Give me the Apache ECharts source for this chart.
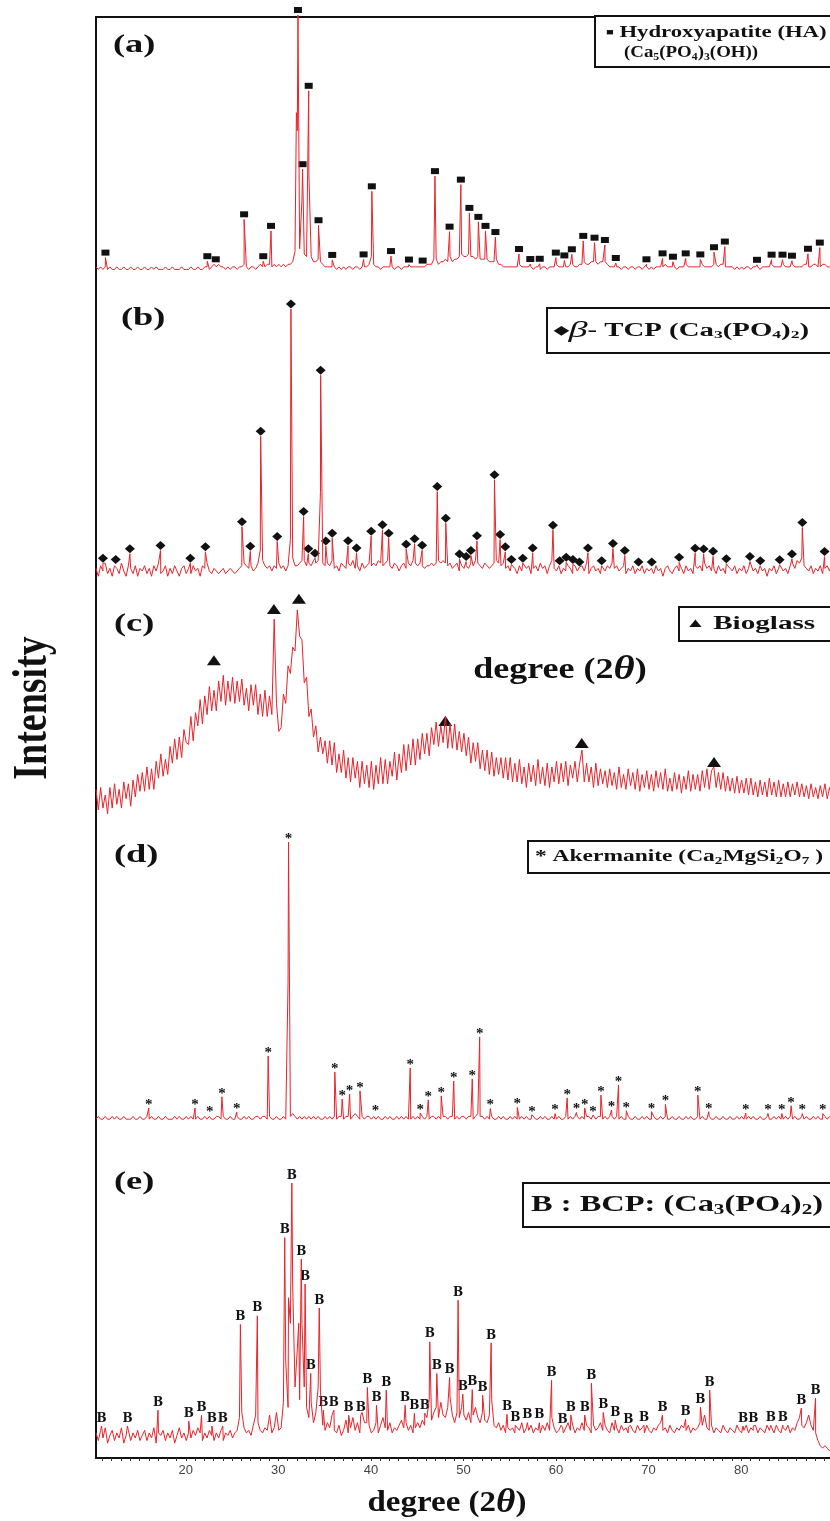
<!DOCTYPE html>
<html>
<head>
<meta charset="utf-8">
<title>XRD patterns (a)-(e)</title>
<script src="https://cdn.jsdelivr.net/npm/echarts@6/dist/echarts.min.js"></script>
<style>
  html, body { margin: 0; padding: 0; background: #fff; }
  #chart { width: 830px; height: 1521px; }
</style>
</head>
<body>
<div id="chart"></div>
<script>
// every pattern is sampled on the same 2theta scan
const scanStart = 10.3;
const scanStep = 0.25;
const xMin = 10.3;
const xMax = 89.6;
const tickLabels = [20, 30, 40, 50, 60, 70, 80];
const minorTicks = Array.from({ length: 79 }, (_, i) => 11 + i);

// (a) hydroxyapatite: background scan, marked peaks, unmarked shoulder
const haBase = [
  2,1,2,1,2,1,2,1,1,2,1,1,2,1,1,2,1,1,2,1,
  1,2,1,1,2,1,2,1,1,1,2,1,1,2,1,1,1,2,1,1,
  1,2,1,1,2,1,1,2,2,1,2,3,2,3,2,2,1,2,1,2,
  2,1,2,2,3,2,1,2,2,1,2,3,2,2,3,3,2,3,2,3,
  2,3,2,3,3,4,8,55,9,28,7,6,38,6,4,4,5,4,3,2,
  2,2,2,2,1,2,1,2,1,2,2,1,2,2,1,2,2,2,3,6,
  3,2,2,1,2,2,2,2,2,1,2,2,1,2,2,2,2,2,2,2,
  2,2,2,3,3,3,5,5,3,4,4,5,4,6,4,5,5,6,7,6,
  6,7,6,6,5,6,5,5,5,5,4,4,4,5,3,3,2,2,2,2,
  2,2,2,3,2,2,2,2,2,1,2,2,1,2,2,1,2,2,2,3,
  2,2,2,2,2,3,3,2,2,3,3,4,3,3,4,4,4,3,4,4,
  4,3,2,2,2,2,2,1,2,2,1,2,2,1,2,2,1,2,2,1,
  2,1,2,2,2,2,3,2,2,2,2,1,2,2,2,3,2,2,2,2,
  2,2,3,2,2,2,2,3,3,2,3,3,2,2,2,2,1,2,1,2,
  1,2,2,1,2,2,2,1,2,2,2,2,3,2,2,2,2,3,2,2,
  2,3,2,2,2,2,3,3,2,2,3,3,2,2,3,3,2,2,2,2
];
const haPeaks = [
  [11.32,5.6],[22.33,4.2],[23.24,3],[26.3,20.5],[28.37,4.2],[29.21,16],[32.12,100],
  [32.62,40],[33.28,70.5],[34.34,18.2],[35.82,4.7],[39.21,4.9],[40.1,31.4],[42.17,6.2],
  [44.11,2.9],[45.59,2.5],[46.92,37.3],[48.5,15.7],[49.72,34],[50.64,23],[51.61,19.5],
  [52.38,16],[53.45,13.6],[56.0,7],[57.22,3.1],[58.24,3.2],[59.98,5.6],[60.9,4.5],
  [61.71,6.9],[62.94,12.1],[64.16,11.4],[65.28,10.5],[66.46,3.5],[69.77,3],[71.51,5.3],
  [72.63,4],[74.01,5.3],[75.59,4.9],[77.07,7.7],[78.24,9.9],[81.71,2.8],[83.29,4.8],
  [84.47,4.8],[85.49,4.4],[87.22,7.1],[88.5,9.5]
];
const haExtra = [[31.95, 62]];

// (b) beta-TCP
const tcpBase = [
  1,-2,2,0,3,-1,1,-2,2,1,-1,3,0,-2,2,1,-1,2,-2,1,
  0,2,-1,1,-2,2,0,3,-1,0,2,-2,1,-1,2,0,-2,1,2,-1,
  1,-1,2,0,1,-2,2,1,3,0,-1,1,0,-1,0,1,-1,0,1,0,
  -1,0,1,2,3,2,1,2,0,1,3,8,4,2,1,2,0,2,1,3,
  1,2,0,2,12,5,2,2,3,4,4,2,3,2,4,3,4,30,3,2,
  3,2,4,1,2,0,3,2,1,3,2,4,1,2,0,3,1,2,3,2,
  3,2,4,3,2,3,4,2,1,3,2,0,2,3,1,3,2,4,3,2,
  3,2,1,2,2,3,2,3,4,3,4,3,2,3,1,2,3,0,2,1,
  2,1,3,2,4,3,2,1,3,2,1,2,3,4,3,2,3,1,2,0,
  2,1,-1,2,0,3,1,2,-1,1,2,0,3,1,2,-1,2,4,1,0,
  2,-1,1,0,2,1,-1,2,0,1,2,0,3,-1,1,2,0,1,-1,2,
  0,2,1,3,1,2,0,1,2,-1,1,0,2,-1,1,0,2,-1,1,0,
  1,-1,2,0,1,-2,1,2,0,-1,1,2,0,1,-1,2,0,1,-1,2,
  1,2,0,3,1,2,0,1,-1,2,0,1,-1,2,1,0,2,-1,1,0,
  2,-1,1,3,0,1,-1,2,0,1,-2,1,0,2,-1,1,2,0,1,-1,
  2,3,1,4,3,5,2,1,0,2,-1,1,0,2,-1,1,2,0,3,1
];
const tcpPeaks = [
  [11.05,3],[12.43,2.5],[13.96,6.6],[17.27,7.8],[20.49,3],[22.12,7.3],[26.07,16.9],
  [26.97,7.5],[28.09,51.4],[29.88,11.3],[31.36,100],[32.73,20.8],[33.24,6.6],[33.96,4.9],
  [34.57,74.7],[35.13,9.5],[35.82,12.5],[37.53,9.6],[38.45,6.9],[40.03,13.3],[41.25,15.7],
  [41.92,12.5],[43.81,8.3],[44.72,10.4],[45.54,7.9],[47.17,30.3],[48.09,18.2],[49.57,4.6],
  [50.29,3.6],[50.8,5.9],[51.46,11.5],[53.35,34.8],[53.96,12],[54.52,7.3],[55.18,2.5],
  [56.41,3],[57.48,6.9],[59.67,15.6],[60.39,2],[61.1,3.3],[61.82,2.5],[62.53,1.5],
  [63.45,6.9],[64.93,2],[66.15,8.6],[67.43,5.9],[68.91,1.5],[70.34,1.5],[73.3,3.3],
  [75.03,6.8],[75.95,6.5],[76.97,5.6],[78.4,2.8],[80.95,3.6],[82.07,2],[84.16,2.4],
  [85.49,4.6],[86.61,16.6],[89.01,5.5]
];

// (c) bioglass: broad amorphous humps, marks above the humps
const bgBase = [
  3,-8,4,-7,0,-10,4,-7,6,-5,3,-7,7,-2,6,-6,8,-1,11,2,
  12,2,15,3,14,3,18,9,22,10,19,11,26,17,30,19,31,20,35,28,
  27,42,29,44,37,51,38,53,43,58,45,56,45,61,50,64,48,61,50,63,
  49,61,50,62,48,57,45,59,48,59,43,54,42,56,42,53,43,94,49,34,
  36,54,49,69,65,79,77,99,85,83,60,63,42,46,31,37,23,31,22,29,
  17,29,16,28,12,22,12,24,9,20,7,20,9,18,4,18,6,16,4,18,
  3,16,6,20,6,19,6,18,10,23,8,22,12,27,13,27,16,30,16,30,
  19,33,22,33,21,36,27,39,26,37,28,42,25,38,25,38,24,34,23,33,
  21,31,17,28,18,28,14,24,13,24,11,23,10,20,11,20,9,20,8,20,
  7,17,7,19,6,15,4,17,7,16,5,19,6,15,5,17,4,15,7,18,
  6,17,7,18,5,16,9,18,7,17,24,7,17,7,15,4,17,5,14,6,
  13,4,14,5,12,3,15,4,11,3,14,5,12,3,14,2,11,4,13,3,
  11,2,13,4,12,3,14,2,9,2,12,3,11,1,10,3,13,2,11,3,
  11,2,13,4,14,3,13,15,4,12,3,12,2,10,2,9,1,10,1,8,
  1,9,0,9,0,7,-1,8,0,7,-1,9,0,7,-1,8,-1,6,-1,7,
  -1,6,0,7,-1,6,-1,5,-2,6,-1,4,-2,5,-1,6,-2,4,-1,5
];
const bgMarks = [[23.04,72],[29.52,99.5],[32.22,105],[48.04,39.6],[62.78,27.8],[77.07,17.6]];

// (d) akermanite
const akBase = [
  1,2,1,1,2,1,1,2,1,2,1,1,2,1,1,1,2,1,1,2,
  1,1,2,1,2,1,1,2,1,1,2,1,1,1,2,1,2,1,1,2,
  1,2,1,1,2,1,1,2,1,2,1,1,2,2,1,2,1,1,2,1,
  1,2,1,1,2,1,2,1,1,2,2,1,2,2,1,2,1,1,2,1,
  1,2,1,50,2,3,2,1,2,1,2,1,2,1,2,1,2,1,1,2,
  1,2,1,2,1,2,2,1,2,2,1,2,3,2,1,2,1,2,2,1,
  2,1,2,1,1,2,1,2,1,1,2,1,2,1,2,1,1,2,1,2,
  1,2,1,2,1,2,2,1,2,1,2,2,1,2,2,1,2,1,2,2,
  1,2,2,1,2,3,2,2,1,2,1,2,1,1,2,1,2,1,1,2,
  1,2,1,1,2,1,2,1,1,2,1,1,2,1,2,1,1,2,1,1,
  2,1,1,2,1,2,1,2,2,1,2,1,2,2,1,2,1,2,2,1,
  2,1,2,2,1,2,1,2,1,1,2,1,1,2,1,1,2,1,2,1,
  1,2,1,1,2,1,2,1,1,2,1,1,2,1,1,2,1,2,1,1,
  2,1,2,1,1,2,1,1,2,1,1,2,1,1,2,1,1,2,1,2,
  1,1,2,1,2,1,1,2,1,1,2,1,1,2,1,2,1,1,2,1,
  2,1,2,1,1,2,1,2,1,1,2,1,2,1,1,2,1,2,1,1
];
const akPeaks = [
  [16.0,5],[21.0,5],[22.6,2.5],[23.9,9],[25.5,3.6],[28.9,23.6],[31.1,100],[36.1,17.9],
  [36.9,8.2],[37.7,10],[38.82,11.1],[40.5,2.7],[44.25,19.3],[45.32,3.2],[46.2,7.9],
  [47.6,9.3],[48.95,14.6],[50.95,15.4],[51.75,30.4],[52.9,4.8],[55.82,5.2],[57.4,2.6],
  [59.9,3],[61.2,8.6],[62.2,3.4],[63.1,5],[64.0,2.5],[64.85,9.6],[66.0,4.3],[66.75,13.2],
  [67.6,4],[70.32,3.7],[71.82,6.3],[75.32,9.6],[76.5,3.7],[80.5,3.2],[82.9,3],[84.4,3],
  [85.4,5.8],[86.6,3],[88.82,3]
];

// (e) BCP
const bcpBase = [
  2,-1,3,0,4,-2,1,3,-1,2,0,4,-2,1,3,-1,2,0,3,-1,
  1,3,-1,2,0,4,-2,2,1,3,-1,2,0,3,-2,1,4,0,2,-1,
  2,0,3,1,4,2,-1,2,0,3,1,-1,2,0,3,-1,2,1,3,0,
  2,3,8,10,4,2,3,1,5,9,6,3,2,4,3,9,2,4,10,3,
  4,14,30,12,45,60,20,35,15,45,20,12,8,14,6,10,20,18,5,3,
  6,4,9,3,2,5,1,3,7,2,4,8,3,6,2,10,6,6,5,2,
  3,6,2,5,8,4,3,6,2,4,3,5,7,4,6,3,5,2,4,6,
  4,7,5,8,15,7,10,12,8,14,9,8,12,16,9,6,10,8,12,9,
  7,10,6,9,12,8,6,10,7,6,9,15,5,4,6,3,5,2,4,3,
  4,2,5,3,6,2,4,3,5,2,4,3,2,5,3,6,3,8,4,2,
  3,5,2,4,6,3,5,2,4,3,6,3,5,4,2,5,3,4,6,3,
  5,3,2,6,3,4,2,5,3,4,2,5,3,2,5,3,4,2,5,3,
  2,4,3,5,6,3,4,2,5,3,2,4,3,5,4,3,5,2,4,3,
  4,6,5,9,4,3,5,2,4,3,2,5,3,2,4,3,2,5,3,2,
  3,5,2,4,3,5,2,4,3,2,5,3,4,2,5,3,2,4,3,5,
  2,4,3,6,8,5,4,6,9,5,3,2,-1,-3,-4,-3,-4,-5,-4,-5
];
const bcpPeaks = [
  [10.9,4.7],[13.7,4.7],[17.0,10.9],[20.32,6.6],[21.7,8.9],[22.82,4.7],[24.0,4.7],
  [25.9,44.5],[27.73,47.9],[30.69,78.6],[31.46,100],[32.48,70.2],[32.89,60.4],[33.5,25.3],
  [34.42,51],[34.86,10.9],[36.0,10.9],[37.6,8.9],[38.9,8.9],[39.62,19.8],[40.6,12.8],
  [41.66,18.8],[43.7,12.8],[44.7,9.7],[45.82,9.7],[46.36,37.7],[47.12,25.3],[48.5,23.7],
  [49.42,54],[49.93,17.2],[50.95,19],[52.07,16.8],[52.99,37.3],[54.7,9.3],[55.6,5],
  [56.9,6],[58.2,6],[59.52,22.6],[60.7,4.2],[61.6,9],[63.1,9],[63.82,21.5],[65.1,10],
  [66.4,7],[67.82,4.3],[69.5,5],[71.5,9],[74.0,7.4],[75.6,12.1],[76.6,18.8],[80.2,4.7],
  [81.32,4.7],[83.2,5],[84.5,5],[86.5,11.7],[88.04,15.6]
];
const bcpExtra = [[31.1, 55], [32.2, 45]];

// pixel rows of each pattern: peak-top (value 100) and baseline (value 0)
const panels = [
  { top: 15, base: 272 },
  { top: 309, base: 571 },
  { top: 608, base: 795 },
  { top: 842, base: 1122 },
  { top: 1183, base: 1438 }
];
const frame = { left: 96, right: 0, top: 17, bottom: 63 };

const RED = '#e8232a';
const INK = '#111';
const SERIF = '"Liberation Serif", "Times New Roman", serif';

function trace(base, ...peakLists) {
  const pts = base.map((v, i) => [+(scanStart + i * scanStep).toFixed(2), v]);
  return pts.concat(...peakLists).sort((p, q) => p[0] - q[0]);
}

const grids = panels.map(p => ({
  left: frame.left, right: frame.right, top: p.top, height: p.base - p.top
}));
grids.push(frame);

const xAxes = panels.map((p, i) => ({
  type: 'value', gridIndex: i, min: xMin, max: xMax, show: false
}));
xAxes.push({
  type: 'value', gridIndex: 5, min: xMin, max: xMax,
  axisLine: { onZero: false, lineStyle: { color: INK, width: 2 } },
  axisTick: { customValues: minorTicks, length: 3, lineStyle: { color: '#333', width: 1 } },
  axisLabel: { customValues: tickLabels, fontSize: 13, color: '#444', fontFamily: 'Liberation Sans', margin: 6 },
  splitLine: { show: false }
});
xAxes.push({
  type: 'value', gridIndex: 5, position: 'top', min: xMin, max: xMax,
  axisLine: { onZero: false, lineStyle: { color: INK, width: 2 } },
  axisTick: { show: false }, axisLabel: { show: false }, splitLine: { show: false }
});

const yAxes = panels.map((p, i) => ({
  type: 'value', gridIndex: i, min: 0, max: 100, show: false
}));
yAxes.push({
  type: 'value', gridIndex: 5, min: 0, max: 1,
  axisLine: { show: true, onZero: false, lineStyle: { color: INK, width: 2 } },
  axisTick: { show: false }, axisLabel: { show: false }, splitLine: { show: false }
});

function lineSeries(i, data) {
  return {
    type: 'line', xAxisIndex: i, yAxisIndex: i, data: data,
    showSymbol: false, symbol: 'none', clip: false, silent: true,
    lineStyle: { color: RED, width: 1 }
  };
}
function markSeries(i, data, extra) {
  return Object.assign({
    type: 'scatter', xAxisIndex: i, yAxisIndex: i, data: data,
    clip: false, silent: true, itemStyle: { color: INK, opacity: 1 }
  }, extra);
}
function textMarks(ch, font, size, dist) {
  return {
    symbolSize: 1,
    itemStyle: { color: 'rgba(0,0,0,0)', opacity: 1 },
    label: {
      show: true, position: 'top', distance: dist, formatter: ch, opacity: 1,
      fontFamily: font, fontWeight: 'bold', fontSize: size, color: INK
    }
  };
}

const series = [
  lineSeries(0, trace(haBase, haPeaks, haExtra)),
  markSeries(0, haPeaks, { symbol: 'rect', symbolSize: [8, 6], symbolOffset: [0, -5] }),
  lineSeries(1, trace(tcpBase, tcpPeaks)),
  markSeries(1, tcpPeaks, { symbol: 'diamond', symbolSize: [10, 9], symbolOffset: [0, -5] }),
  lineSeries(2, trace(bgBase)),
  markSeries(2, bgMarks, { symbol: 'triangle', symbolSize: [14, 10] }),
  lineSeries(3, trace(akBase, akPeaks)),
  markSeries(3, akPeaks, textMarks('*', SERIF, 15, -5)),
  lineSeries(4, trace(bcpBase, bcpPeaks, bcpExtra)),
  markSeries(4, bcpPeaks, textMarks('B', '"DejaVu Serif", serif', 12, 1))
];

// text helpers for the annotation layer
function font(size, extra) {
  return Object.assign({ fontSize: size, fontFamily: SERIF, fontWeight: 'bold' }, extra);
}
function sub(size) {
  return font(size, { padding: [Math.round(size * 0.75), 0, 0, 0] });
}
function txt(x, y, text, size, sx, more) {
  return {
    type: 'text', x: x, y: y, z: 100, scaleX: sx,
    style: Object.assign(font(size, {
      text: text, fill: INK, align: 'left', verticalAlign: 'middle'
    }), more || {})
  };
}
function box(x, y, w, h) {
  return {
    type: 'rect', z: 99, shape: { x: x, y: y, width: w, height: h },
    style: { fill: '#fff', stroke: INK, lineWidth: 2 }
  };
}

const graphic = [
  txt(113, 45, '(a)', 26, 1.4),
  txt(121, 318, '(b)', 26, 1.4),
  txt(114, 624, '(c)', 26, 1.4),
  txt(114, 855, '(d)', 26, 1.4),
  txt(114, 1182, '(e)', 26, 1.4),

  box(595, 16, 236, 51),
  txt(606, 33, '{m|■} Hydroxyapatite (HA)', 16, 1.42, { rich: { m: font(9) } }),
  txt(624, 53, '(Ca{s|5}(PO{s|4}){s|3}(OH))', 16, 1.18, { rich: { s: sub(10) } }),

  box(547, 308, 284, 45),
  txt(554, 331, '{m|◆}{g|β}- TCP (Ca{s|3}(PO{s|4}){s|2})', 18, 1.6,
    { rich: { m: font(12), g: font(24, { fontStyle: 'italic', fontWeight: 'normal' }), s: sub(11) } }),

  box(679, 607, 152, 34),
  txt(685, 624, '{m|▲} Bioglass', 18, 1.62, { rich: { m: font(13) } }),

  box(528, 841, 303, 32),
  txt(535, 857, '* Akermanite (Ca{s|2}MgSi{s|2}O{s|7} )', 17, 1.38, { rich: { s: sub(11) } }),

  box(523, 1183, 308, 44),
  txt(531, 1205, 'B : BCP: (Ca{s|3}(PO{s|4}){s|2})', 23, 1.41, { rich: { s: sub(15) } }),

  txt(560, 670, 'degree (2{t|θ})', 30, 1.2,
    { align: 'center', rich: { t: font(34, { fontStyle: 'italic' }) } }),
  txt(447, 1503, 'degree (2{t|θ})', 30, 1.1,
    { align: 'center', rich: { t: font(34, { fontStyle: 'italic' }) } }),
  {
    type: 'text', x: 34, y: 708, z: 100, rotation: Math.PI / 2, scaleY: 1.25,
    style: font(38, { text: 'Intensity', fill: INK, align: 'center', verticalAlign: 'middle' })
  }
];

const chart = echarts.init(document.getElementById('chart'));
chart.setOption({
  animation: false,
  backgroundColor: '#fff',
  grid: grids,
  xAxis: xAxes,
  yAxis: yAxes,
  series: series,
  graphic: graphic
});
</script>
</body>
</html>
